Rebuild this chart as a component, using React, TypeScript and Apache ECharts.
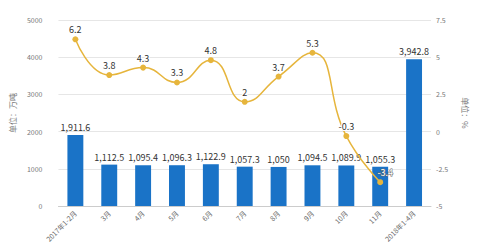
import React, { useEffect, useRef } from "react";
import * as echarts from "echarts";

const categories = ["2017年1-2月", "3月", "4月", "5月", "6月", "7月", "8月", "9月", "10月", "11月", "2018年1-4月"];
const outputValues = [1911.6, 1112.5, 1095.4, 1096.3, 1122.9, 1057.3, 1050, 1094.5, 1089.9, 1055.3, 3942.8];
const growthValues: (number | null)[] = [6.2, 3.8, 4.3, 3.3, 4.8, 2, 3.7, 5.3, -0.3, -3.4, null];
const leftTicks = { min: 0, max: 5000, interval: 1000 };
const rightTicks = { min: -5, max: 7.5, interval: 2.5 };

const FONT = "'Noto Sans CJK SC', 'Noto Sans', sans-serif";

export default function App() {
  const ref = useRef<HTMLDivElement>(null);
  useEffect(() => {
    if (!ref.current) return;
    const chart = echarts.init(ref.current, undefined, { renderer: "svg" });
    const lineData = growthValues.map((v, i) =>
      i === 9 ? { value: v, label: { offset: [5, 0], color: "#fff", textBorderColor: "#666", textBorderWidth: 1 } } : v
    );
    chart.setOption({
      animation: false,
      textStyle: { fontFamily: FONT },
      grid: { left: 54, right: 56, top: 20, bottom: 43 },
      xAxis: {
        type: "category",
        data: categories,
        axisLine: { lineStyle: { color: "#cccccc" } },
        axisTick: { alignWithLabel: true, lineStyle: { color: "#bbbbbb" } },
        axisLabel: { rotate: 45, fontSize: 7, color: "#666", margin: 6 },
      },
      yAxis: [
        {
          type: "value",
          ...leftTicks,
          name: "单位：万吨",
          nameLocation: "middle",
          nameRotate: 90,
          nameGap: 32,
          nameTextStyle: { fontSize: 8, color: "#777" },
          axisLine: { show: false },
          axisTick: { show: false },
          axisLabel: { fontSize: 7, color: "#777", margin: 16, formatter: (v: number) => String(v) },
          splitLine: { lineStyle: { color: "#e6e6e6" } },
        },
        {
          type: "value",
          ...rightTicks,
          name: "单位：%",
          nameLocation: "middle",
          nameRotate: -90,
          nameGap: 31,
          nameTextStyle: { fontSize: 8, color: "#777" },
          axisLine: { show: false },
          axisTick: { show: false },
          axisLabel: { fontSize: 7, color: "#777", margin: 5 },
          splitLine: { show: false },
        },
      ],
      series: [
        {
          type: "bar",
          data: outputValues,
          barWidth: "47%",
          itemStyle: { color: "#1a73c7" },
          label: {
            show: true,
            position: "top",
            fontSize: 9,
            color: "#333",
            distance: 3,
            formatter: (p: any) => Number(p.value).toLocaleString("en-US"),
          },
        },
        {
          type: "line",
          yAxisIndex: 1,
          data: lineData,
          smooth: true,
          symbol: "circle",
          symbolSize: 6,
          lineStyle: { color: "#e6b53c", width: 1.5 },
          itemStyle: { color: "#e6b53c" },
          label: {
            show: true,
            position: "top",
            fontSize: 9,
            color: "#333",
            distance: 2,
            textBorderColor: "#fff",
            textBorderWidth: 2,
          },
          z: 5,
        },
      ],
    });
    return () => chart.dispose();
  }, []);
  return (
    <div
      ref={ref}
      style={{ position: "fixed", left: 0, top: 0, width: 487, height: 249, background: "#fff" }}
    />
  );
}
